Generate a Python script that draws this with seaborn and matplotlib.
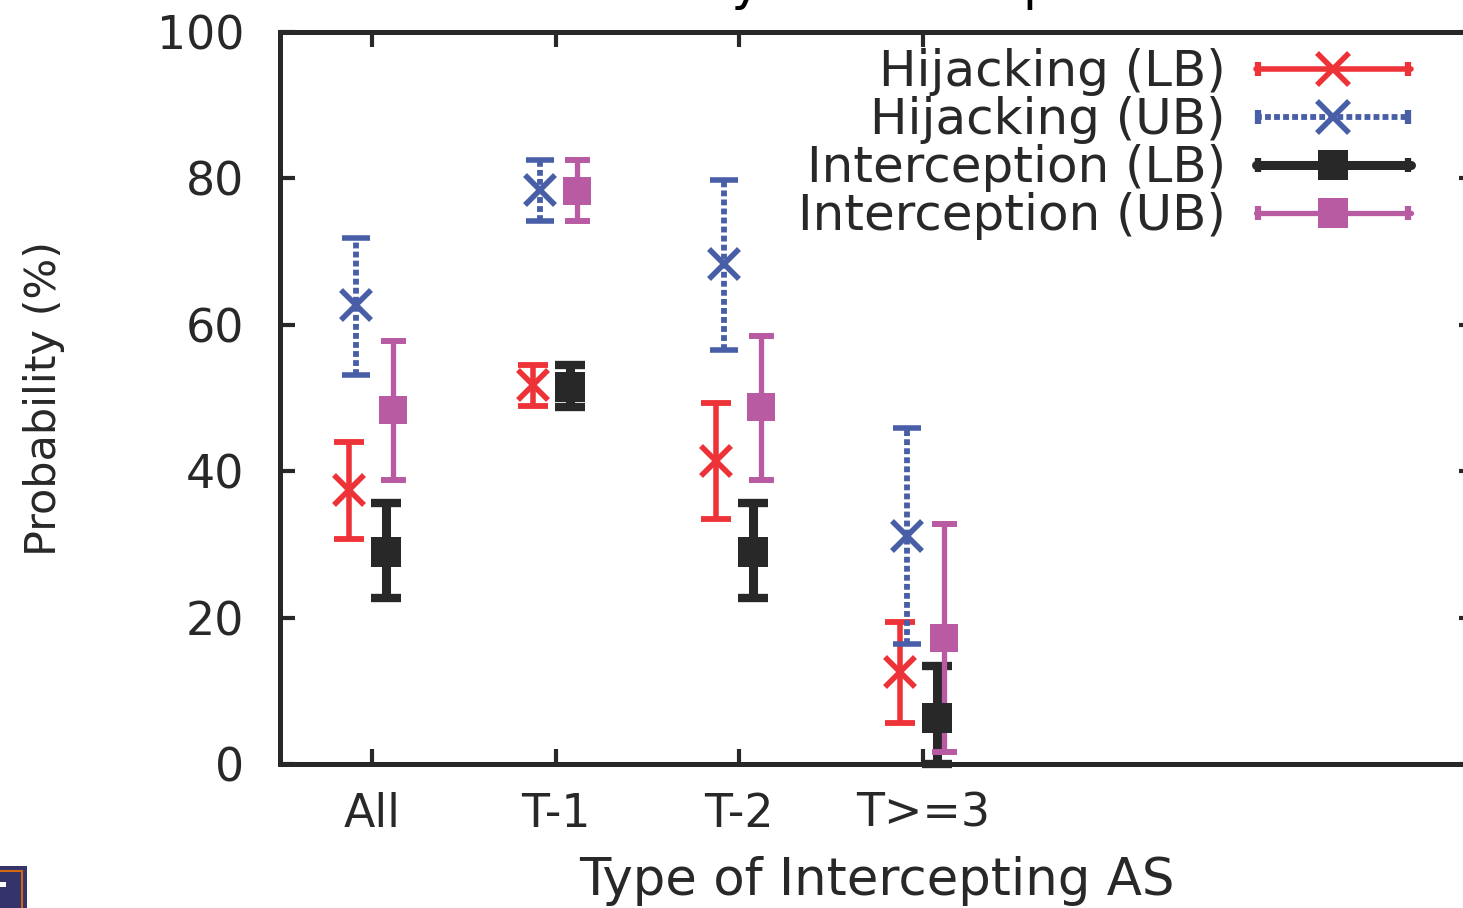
import numpy as np
import pandas as pd
import matplotlib
matplotlib.use("Agg")
import matplotlib.pyplot as plt
import seaborn as sns
from matplotlib.lines import Line2D
from matplotlib.patches import Rectangle
from matplotlib.legend_handler import HandlerBase

# data (percent)
categories = ["All", "T-1", "T-2", "T>=3"]

hij_lb_mid = [37.4, 51.8, 41.4, 12.6]
hij_lb_low = [30.7, 48.9, 33.5, 5.6]
hij_lb_high = [44.0, 54.5, 49.3, 19.4]

hij_ub_mid = [62.7, 78.4, 68.3, 31.1]
hij_ub_low = [53.1, 74.2, 56.6, 16.4]
hij_ub_high = [71.9, 82.5, 79.8, 45.9]

int_lb_mid = [29.0, 51.5, 29.0, 6.3]
int_lb_low = [22.7, 48.8, 22.7, 0.0]
int_lb_high = [35.7, 54.5, 35.7, 13.4]

int_ub_mid = [48.4, 78.3, 48.8, 17.2]
int_ub_low = [38.8, 74.2, 38.8, 1.6]
int_ub_high = [57.8, 82.5, 58.5, 32.8]

series = [
    ("Hijacking (LB)", hij_lb_mid, hij_lb_low, hij_lb_high),
    ("Hijacking (UB)", hij_ub_mid, hij_ub_low, hij_ub_high),
    ("Interception (LB)", int_lb_mid, int_lb_low, int_lb_high),
    ("Interception (UB)", int_ub_mid, int_ub_low, int_ub_high),
]

styles = {
    "Hijacking (LB)": dict(color="#ee3338", marker="x", ms=22, mew=4.0, lw=4.0,
                           capsize=11, capthick=4.2, ls="-", off=-0.125),
    "Hijacking (UB)": dict(color="#485fa8", marker="x", ms=22, mew=4.0, lw=4.2,
                           capsize=10, capthick=4.0, ls=(0, (1.0, 0.55)), off=-0.085),
    "Interception (LB)": dict(color="#282828", marker="s", ms=21, mew=0, lw=6.5,
                              capsize=11, capthick=6.0, ls="-", off=0.077),
    "Interception (UB)": dict(color="#b95ba3", marker="s", ms=20, mew=0, lw=3.8,
                              capsize=9, capthick=4.3, ls="-", off=0.117),
}

rows = []
for name, mid, low, high in series:
    for i, c in enumerate(categories):
        rows.append(dict(series=name, pos=i + 1, cat=c, mid=mid[i], low=low[i], high=high[i]))
df = pd.DataFrame(rows)

sns.set_theme(style="ticks")
plt.rcParams["font.family"] = ["DejaVu Sans"]
dark = "#282828"

fig = plt.figure(figsize=(14.63, 9.08), dpi=100)
ax = fig.add_axes([280 / 1463, 1 - 764 / 908, 1194 / 1463, 732 / 908])

handles = []
for name, _, _, _ in series:
    st = styles[name]
    d = df[df.series == name]
    x = d.pos + st["off"]
    yerr = [d.mid - d.low, d.high - d.mid]
    eb = ax.errorbar(x, d.mid, yerr=yerr, fmt="none", ecolor=st["color"],
                     elinewidth=st["lw"], capsize=st["capsize"], capthick=st["capthick"],
                     clip_on=False, zorder=3)
    eb[2][0].set_linestyle(st["ls"])
    ax.plot(x, d.mid, ls="none", marker=st["marker"], ms=st["ms"], mew=st["mew"],
            color=st["color"], clip_on=False, zorder=4)
    handles.append(Line2D([], [], color=st["color"], lw=st["lw"], ls=st["ls"],
                          marker=st["marker"], ms=st["ms"], mew=st["mew"], label=name))


class CapLineHandler(HandlerBase):
    def create_artists(self, legend, orig_handle, xdescent, ydescent, width, height,
                       fontsize, trans):
        y = height / 2 - ydescent
        x0, x1 = -xdescent, width - xdescent
        line = Line2D([x0, x1], [y, y])
        self.update_prop(line, orig_handle, legend)
        line.set_marker("")
        line.set_transform(trans)
        c = 5
        caps = Line2D([x0 + 2, x0 + 2, np.nan, x1 - 2, x1 - 2], [y - c, y + c, np.nan, y - c, y + c],
                      color=orig_handle.get_color(), lw=4.5, solid_capstyle="butt",
                      transform=trans)
        mk = Line2D([(x0 + x1) / 2], [y], ls="none", marker=orig_handle.get_marker(),
                    ms=orig_handle.get_markersize() + 1, mew=orig_handle.get_markeredgewidth(),
                    color=orig_handle.get_color(), transform=trans)
        return [line, caps, mk]


leg = ax.legend(handles=handles, handler_map={Line2D: CapLineHandler()},
                loc="upper right", bbox_to_anchor=(0.947, 0.978), frameon=False,
                markerfirst=False, fontsize=36, handlelength=3.1, handletextpad=0.6,
                labelspacing=0.0, borderaxespad=0, borderpad=0)
for t in leg.get_texts():
    t.set_color(dark)

ax.set_xlim(0.5, 7.0)
ax.set_ylim(0, 100)
ax.set_xticks(range(1, len(categories) + 1))
ax.set_xticklabels(categories)
ax.set_yticks(range(0, 101, 20))
ax.tick_params(axis="both", direction="in", length=11, width=3, color=dark,
               labelcolor=dark, labelsize=33, top=True, right=True)
ax.tick_params(axis="x", pad=20)
ax.tick_params(axis="y", pad=26)
for s in ax.spines.values():
    s.set_linewidth(3.6)
    s.set_color(dark)

ax.set_xlabel("Type of Intercepting AS", fontsize=37, color=dark, labelpad=14)
ax.set_ylabel("Probability (%)", fontsize=31, color=dark, labelpad=66)

# title, mostly cut off at the top edge
fig.text(822 / 1463, 1.0 + 1 / 908, "Probability of Interception", ha="center",
         va="baseline", fontsize=37, color="black")

# small logo fragment in the lower-left corner
fig.patches.append(Rectangle((0, 0), 27 / 1463, 42 / 908, transform=fig.transFigure,
                             facecolor="#34336a", edgecolor="none", zorder=5))
fig.patches.append(Rectangle((-2 / 1463, -2 / 908), 24 / 1463, 39 / 908, transform=fig.transFigure,
                             facecolor="none", edgecolor="#d0680f", lw=1.5, zorder=6))
fig.patches.append(Rectangle((0, 21 / 908), 6 / 1463, 5 / 908, transform=fig.transFigure,
                             facecolor="white", edgecolor="none", zorder=7))

fig.savefig("out.png", dpi=100)
